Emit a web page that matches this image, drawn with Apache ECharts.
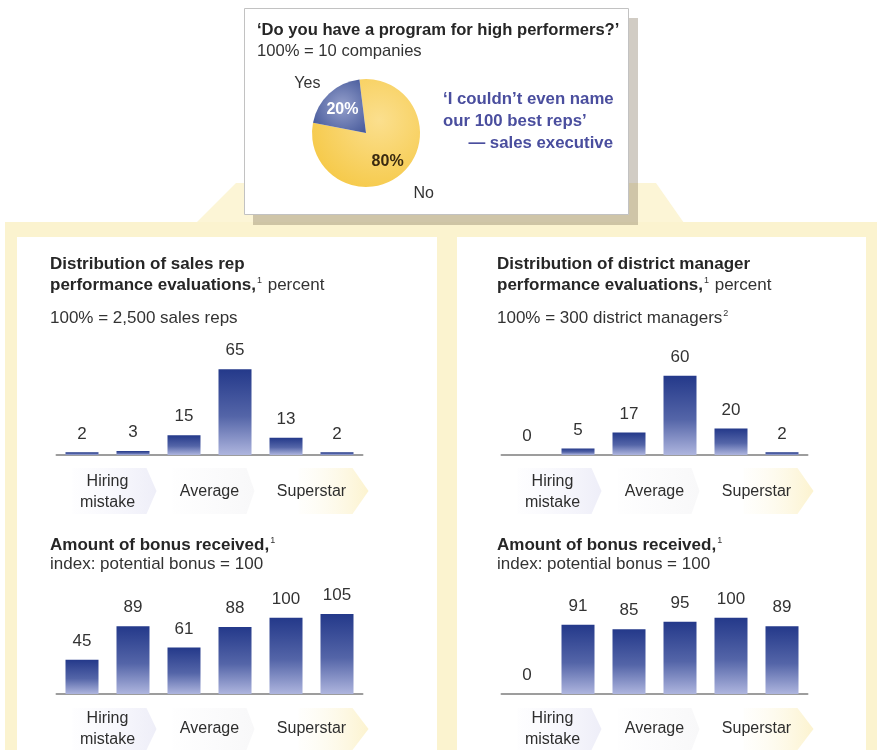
<!DOCTYPE html>
<html><head><meta charset="utf-8">
<script src="https://cdn.jsdelivr.net/npm/echarts@6/dist/echarts.min.js"></script>
<style>html,body{margin:0;padding:0;background:#fff}#c{width:877px;height:750px}</style>
</head><body><div id="c"></div>
<script>
// ---- data ----
const pieNames = ['No', 'Yes'];
const pieValues = [80, 20];
const rankCategories = ['1', '2', '3', '4', '5', '6'];
const groupLabels = ['Hiring\nmistake', 'Average', 'Superstar'];
const salesRepDist = [2, 3, 15, 65, 13, 2];
const salesRepBonus = [45, 89, 61, 88, 100, 105];
const dmDist = [0, 5, 17, 60, 20, 2];
const dmBonus = [0, 91, 85, 95, 100, 89];

// ---- layout / style ----
const F = "'Liberation Sans',Arial,Helvetica,sans-serif";
const TXT = '#333333';
const grids = [
  { left: 56.5, top: 323, width: 306, height: 132, max: 100, margin: 37, data: salesRepDist },
  { left: 56.5, top: 602.6, width: 306, height: 92.4, max: 120, margin: 35, data: salesRepBonus },
  { left: 501.5, top: 323, width: 306, height: 132, max: 100, margin: 37, data: dmDist },
  { left: 501.5, top: 602.6, width: 306, height: 92.4, max: 120, margin: 35, data: dmBonus }
];

const barColor = new echarts.graphic.LinearGradient(0, 0, 0, 1, [
  { offset: 0, color: '#24398a' }, { offset: 0.55, color: '#5465a8' }, { offset: 1, color: '#aeb5de' }
]);

const xAxes = [], yAxes = [], series = [], gridOpts = [];
grids.forEach((g, i) => {
  gridOpts.push({ left: g.left, top: g.top, width: g.width, height: g.height });
  xAxes.push({ gridIndex: i, type: 'category', data: rankCategories,
    axisLine: { lineStyle: { color: '#9d9d9d', width: 2 } }, axisTick: { show: false }, axisLabel: { show: false } });
  xAxes.push({ gridIndex: i, type: 'category', data: groupLabels, position: 'bottom',
    axisLine: { show: false }, axisTick: { show: false },
    axisLabel: { margin: g.margin, verticalAlign: 'middle', fontSize: 16, lineHeight: 21, color: '#2e2e2e', fontFamily: F } });
  yAxes.push({ gridIndex: i, type: 'value', min: 0, max: g.max, show: false });
  series.push({ type: 'bar', xAxisIndex: 2 * i, yAxisIndex: i, data: g.data, barWidth: 33, z: 3,
    itemStyle: { color: barColor },
    label: { show: true, position: 'top', distance: 10, fontSize: 17, color: TXT, fontFamily: F } });
});

const pieColors = [
  new echarts.graphic.RadialGradient(0.62, 0.38, 0.8, [{ offset: 0, color: '#fbdf8e' }, { offset: 1, color: '#f5c63e' }]),
  new echarts.graphic.RadialGradient(0.55, 0.5, 0.8, [{ offset: 0, color: '#95a0cc' }, { offset: 1, color: '#34498f' }])
];
const pieLabelColors = ['#3a2a10', '#ffffff'];
const pctOffset = [[-5, 0], [3, 5]];
const nameOffset = [[-1, -2], [0, 13]];
series.push({ type: 'pie', center: [366, 133], radius: 54, startAngle: 97, silent: true,
  data: pieNames.map((n, k) => ({ name: n, value: pieValues[k], itemStyle: { color: pieColors[k] } })),
  label: { show: false }, labelLine: { show: false } });
series.push({ type: 'pie', center: [366, 133], radius: 72, startAngle: 97, silent: true,
  data: pieNames.map((n, k) => ({ name: n, value: pieValues[k], itemStyle: { color: 'rgba(0,0,0,0)' },
    label: { color: pieLabelColors[k], offset: pctOffset[k] } })),
  label: { show: true, position: 'inside', formatter: '{c}%', fontSize: 16, fontWeight: 'bold', fontFamily: F },
  labelLine: { show: false } });
series.push({ type: 'pie', center: [366, 133], radius: 166, startAngle: 97, silent: true,
  data: pieNames.map((n, k) => ({ name: n, value: pieValues[k], itemStyle: { color: 'rgba(0,0,0,0)' },
    label: { offset: nameOffset[k] } })),
  label: { show: true, position: 'inside', formatter: '{b}', fontSize: 16, color: TXT, fontFamily: F },
  labelLine: { show: false } });

// ---- decorations ----
const YEL = '#fbf3cf';
const graphics = [
  { type: 'polygon', shape: { points: [[236, 183], [656, 183], [684, 223], [196, 223]] }, style: { fill: '#fcf5d6' }, z: -10 },
  { type: 'rect', shape: { x: 5, y: 222, width: 872, height: 528 }, style: { fill: YEL }, z: -10 },
  { type: 'rect', shape: { x: 17, y: 237, width: 420, height: 513 }, style: { fill: '#ffffff' }, z: -9 },
  { type: 'rect', shape: { x: 457, y: 237, width: 409, height: 513 }, style: { fill: '#ffffff' }, z: -9 },
  { type: 'rect', shape: { x: 253, y: 18, width: 385, height: 207 }, style: { fill: 'rgba(115,100,75,0.33)' }, z: -8 },
  { type: 'rect', shape: { x: 244.5, y: 8.5, width: 384, height: 206 }, style: { fill: '#ffffff', stroke: '#c2c2c2', lineWidth: 1 }, z: -7 }
];
// arrow backgrounds behind group labels
const arrowFills = [
  ['rgba(244,244,252,0.1)', '#eeeef8', 16, 12, -2],
  ['rgba(248,248,250,0.1)', '#f8f8f9', 14, 14, -6],
  ['rgba(253,249,232,0.1)', '#fcf3cf', 38, 10, 6]
];
grids.forEach(g => {
  const base = g.top + g.height;
  const y0 = base + 13, y1 = Math.min(base + 59, 750);
  const gw = g.width / 3;
  arrowFills.forEach((a, k) => {
    const x0 = g.left + k * gw + a[2], x1 = g.left + (k + 1) * gw - a[3], tip = g.left + (k + 1) * gw + a[4];
    graphics.push({ type: 'polygon', z: -5,
      shape: { points: [[x0, y0], [x1, y0], [tip, (y0 + y1) / 2], [x1, y1], [x0, y1]] },
      style: { fill: new echarts.graphic.LinearGradient(0, 0, 1, 0, [{ offset: 0, color: a[0] }, { offset: 1, color: a[1] }]) } });
  });
});

function txt(x, y, text, extra) {
  return Object.assign({ type: 'text', x: x, y: y, z: 5,
    style: Object.assign({ text: text, fill: TXT, font: "17px " + F, verticalAlign: 'middle',
      rich: {
        b: { fontWeight: 'bold', fontSize: 17, fontFamily: F, fill: '#262626' },
        t: { fontWeight: 'bold', fontSize: 16.6, fontFamily: F, fill: '#262626' },
        r: { fontSize: 17, fontFamily: F, fill: TXT },
        s: { fontSize: 9, fontFamily: F, fill: TXT, verticalAlign: 'top', padding: [0, 1, 9, 1] }
      } }, extra || {}) });
}
graphics.push(
  txt(257, 30, '{t|‘Do you have a program for high performers?’}'),
  txt(257, 51, '100% = 10 companies', { font: "16.6px " + F }),
  Object.assign(txt(443, 100, '‘I couldn’t even name\nour 100 best reps’', { fill: '#4a4e9e', font: "bold 16.8px " + F, lineHeight: 21.5, verticalAlign: 'top' }), { y: 89 }),
  txt(613, 143, '— sales executive', { fill: '#4a4e9e', font: "bold 16.8px " + F, align: 'right' }),

  txt(50, 264, '{b|Distribution of sales rep}'),
  txt(50, 285, '{b|performance evaluations,}{s|1}{r| percent}'),
  txt(50, 318, '100% = 2,500 sales reps'),
  txt(50, 545, '{b|Amount of bonus received,}{s|1}'),
  txt(50, 564, 'index: potential bonus = 100'),

  txt(497, 264, '{b|Distribution of district manager}'),
  txt(497, 285, '{b|performance evaluations,}{s|1}{r| percent}'),
  txt(497, 318, '{r|100% = 300 district managers}{s|2}'),
  txt(497, 545, '{b|Amount of bonus received,}{s|1}'),
  txt(497, 564, 'index: potential bonus = 100')
);

const chart = echarts.init(document.getElementById('c'), null, { renderer: 'canvas' });
chart.setOption({
  animation: false,
  backgroundColor: '#ffffff',
  grid: gridOpts,
  xAxis: xAxes,
  yAxis: yAxes,
  series: series,
  graphic: { elements: graphics }
});
</script>
</body></html>
